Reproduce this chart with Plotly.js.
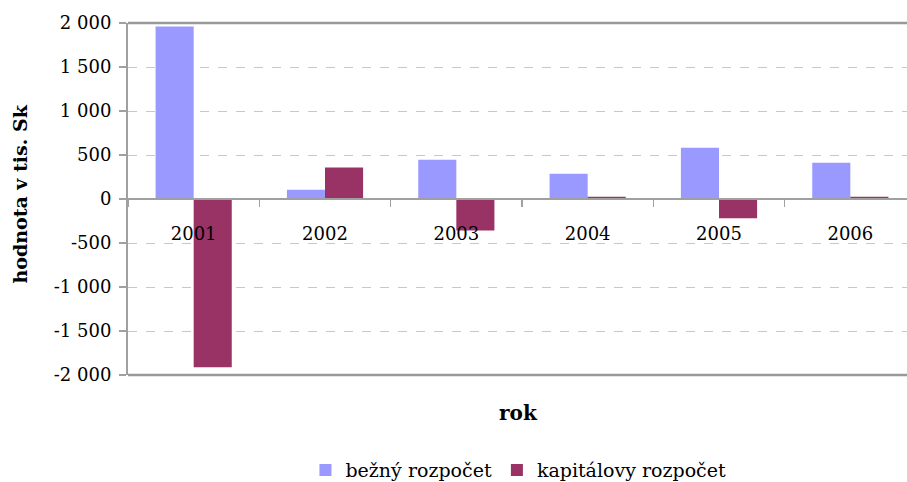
<!DOCTYPE html>
<html>
<head>
<meta charset="utf-8">
<script src="https://cdn.plot.ly/plotly-3.0.1.min.js"></script>
<style>html,body{margin:0;padding:0;overflow:hidden;background:#fff;width:907px;height:482px;}</style>
</head>
<body>
<div id="chart" style="width:920px;height:500px;"></div>
<script>
var years = ["2001", "2002", "2003", "2004", "2005", "2006"];
var bezny = [1960, 105, 447, 288, 582, 412];
var kapitalovy = [-1912, 357, -357, 26, -220, 26];
var yTickVals = [-2000, -1500, -1000, -500, 0, 500, 1000, 1500, 2000];
var yTickText = ["-2 000", "-1 500", "-1 000", "-500", "0", "500", "1 000", "1 500", "2 000"];
var seriesNames = ["bežný rozpočet", "kapitálovy rozpočet"];

var font = "DejaVu Serif, serif";
var data = [
  {type: "bar", x: years, y: bezny, name: seriesNames[0], marker: {color: "#9999FF"}, hoverinfo: "none"},
  {type: "bar", x: years, y: kapitalovy, name: seriesNames[1], marker: {color: "#993366"}, hoverinfo: "none"}
];
var layout = {
  width: 920, height: 500,
  margin: {l: 128, r: 4, t: 23, b: 125},
  paper_bgcolor: "#fff", plot_bgcolor: "#fff",
  barmode: "group", bargap: 0.42, bargroupgap: 0,
  font: {family: font, color: "#000", size: 18},
  xaxis: {
    type: "category", anchor: "free", position: 0.5,
    showline: true, linecolor: "#a0a0a0", linewidth: 2,
    ticks: "outside", ticklen: 7, tickcolor: "#a0a0a0", tickwidth: 1.5,
    tickson: "boundaries", ticklabelstandoff: 18,
    showgrid: false, zeroline: false,
    tickfont: {family: font, size: 18, color: "#000"}
  },
  yaxis: {
    range: [-2000, 2000], tickvals: yTickVals, ticktext: yTickText,
    showline: true, linecolor: "#a0a0a0", linewidth: 2,
    ticks: "outside", ticklen: 7, tickcolor: "#a0a0a0", tickwidth: 1.5,
    ticklabelstandoff: 4,
    showgrid: true, gridcolor: "#c8c8c8", gridwidth: 1, griddash: "dash",
    zeroline: false,
    tickfont: {family: font, size: 18, color: "#000"}
  },
  shapes: [
    {type: "line", xref: "paper", yref: "paper", x0: 0, x1: 1, y0: 1, y1: 1, line: {color: "#999", width: 2.5}},
    {type: "line", xref: "paper", yref: "paper", x0: 0, x1: 1, y0: 0, y1: 0, line: {color: "#999", width: 2.5}}
  ],
  annotations: [
    {text: "<b>hodnota v tis. Sk</b>", xref: "paper", yref: "paper", x: -0.1364, y: 0.514,
     xanchor: "center", yanchor: "middle", textangle: -90, showarrow: false,
     font: {family: font, size: 19, color: "#000"}},
    {text: "<b>rok</b>", xref: "paper", yref: "paper", x: 0.4955, y: -0.108,
     xanchor: "center", yanchor: "middle", showarrow: false,
     font: {family: font, size: 20, color: "#000"}}
  ],
  showlegend: true,
  legend: {orientation: "h", x: 0.4955, xanchor: "center", y: -0.27, yanchor: "middle",
    font: {family: font, size: 19, color: "#000"}, itemwidth: 30, traceorder: "normal"}
};
Plotly.newPlot("chart", data, layout, {displayModeBar: false, staticPlot: true});
</script>
</body>
</html>
